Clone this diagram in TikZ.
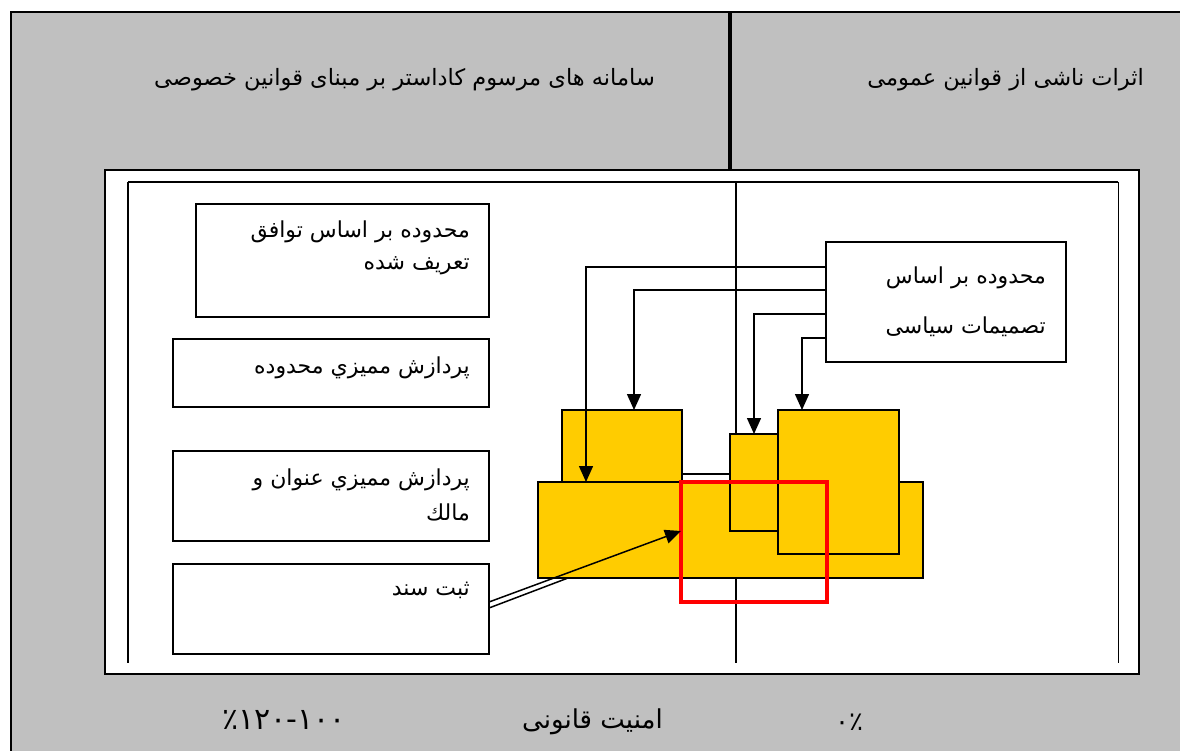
\documentclass[tikz,border=0pt]{standalone}
\usepackage{fontspec}
\usetikzlibrary{calc,arrows.meta}
\TeXXeTstate=1
\newfontfamily\arabicfont[Script=Arabic]{DejaVu Sans}
\definecolor{bggray}{HTML}{C0C0C0}
\definecolor{boxyellow}{HTML}{FFCC00}
\definecolor{frred}{HTML}{FF0000}
\begin{document}
\begin{tikzpicture}[x=1pt,y=-1pt,
  box/.style={draw=black, line width=1.5pt, fill=white, anchor=north west, inner sep=0pt, outer sep=0pt},
  ybox/.style={draw=black, line width=1.5pt, fill=boxyellow, anchor=north west, inner sep=0pt, outer sep=0pt},
  redbox/.style={draw=frred, line width=3.5pt, anchor=north west, inner sep=0pt, outer sep=0pt},
  arr/.style={line width=1.5pt, -{Triangle[length=16pt,width=14pt]}},
  plain/.style={line width=1.5pt},
  txt/.style={font={\arabicfont\fontsize{22}{26}\selectfont}, inner sep=0pt, anchor=east},
  head/.style={font={\arabicfont\fontsize{22.5}{26}\selectfont}, inner sep=0pt, anchor=east},
  foot/.style={font={\arabicfont\fontsize{26}{30}\selectfont}, inner sep=0pt, anchor=east},
]
\useasboundingbox (0,0) rectangle (1180,751);
\fill[white] (0,0) rectangle (1180,751);
\fill[bggray] (11,12) rectangle (1180,751);
\draw[line width=2pt] (11,751) -- (11,12) -- (1180,12);
% thick divider
\draw[line width=3.5pt] (730,12) -- (730,182);
% white panel
\draw[fill=white, line width=1.8pt] (105,170) rectangle (1139,674);
% inner frame
\draw[line width=2pt] (128,182) -- (1118,182);
\draw[line width=1.6pt] (128,182) -- (128,663);
\draw[line width=1pt] (1118,182) -- (1118,663);
\draw[line width=1.4pt] (736,182) -- (736,663);

% boxes on the left
\node[box, minimum width=293pt, minimum height=113pt] (b1) at (196,204) {};
\node[box, minimum width=316pt, minimum height=68pt] (b2) at (173,339) {};
\node[box, minimum width=316pt, minimum height=90pt] (b3) at (173,451) {};
\node[box, minimum width=316pt, minimum height=90pt] (b4) at (173,564) {};
\node[box, minimum width=240pt, minimum height=120pt] (pol) at (826,242) {};

% lower line of double connector (under yellow)
\coordinate (dlend) at (568,578);
\draw[plain] ($(b4.north east)+(0,44)$) -- (dlend);

% yellow boxes
\node[ybox, minimum width=120pt, minimum height=72pt] (yUL) at (562,410) {};
\coordinate (gapend) at (730,474);
\draw[plain] (yUL.east |- gapend) -- (gapend);
\node[ybox, minimum width=385pt, minimum height=96pt] (yBig) at (538,482) {};
\node[ybox, minimum width=48pt, minimum height=97pt] (ySmall) at (730,434) {};
\node[ybox, minimum width=121pt, minimum height=144pt] (yTall) at (778,410) {};
\node[redbox, minimum width=146pt, minimum height=120pt] (red) at (681,482) {};

% connectors from policy box
\draw[arr] ($(pol.west)+(0,-35)$) -| ($(yBig.north west)+(48,0)$);
\draw[arr] ($(pol.west)+(0,-12)$) -| ($(yUL.north west)+(72,0)$);
\draw[arr] ($(pol.west)+(0,12)$) -| (ySmall.north);
\draw[arr] ($(pol.west)+(0,36)$) -| ($(yTall.north west)+(24,0)$);
% connector from registration box
\draw[arr] ($(b4.north east)+(0,38)$) -- ($(red.west)+(0,-11)$);

% texts
\node[txt] (t1a) at (470,232) {\beginR محدوده بر اساس توافق\endR};
\node[txt] (t1b) at (470,266) {\beginR تعريف شده\endR};
\node[txt] (t2) at (470,368) {\beginR پردازش مميزي محدوده\endR};
\node[txt] (t3a) at (470,480) {\beginR پردازش مميزي عنوان و\endR};
\node[txt] (t3b) at (470,512) {\beginR مالك\endR};
\node[txt] (t4) at (470,590) {\beginR ثبت سند\endR};
\node[txt] (tpa) at (1046,278) {\beginR محدوده بر اساس\endR};
\node[txt] (tpb) at (1046,327) {\beginR تصميمات سياسی\endR};

\node[head] (h1) at (655,80) {\beginR سامانه های مرسوم کاداستر بر مبنای قوانین خصوصی\endR};
\node[head] (h2) at (1144,80) {\beginR اثرات ناشی از قوانین عمومی\endR};
\node[foot] (f1) at (663,722) {\beginR امنیت قانونی\endR};
\node[foot, anchor=center] (f2) at (849,722) {\hbox{۰}\hbox{٪}};
\node[foot, anchor=center, font={\arabicfont\fontsize{30}{34}\selectfont}] (f3) at (284,720) {\hbox{٪}\hbox{۱۲۰}\hbox{-}\hbox{۱۰۰}};
\end{tikzpicture}
\end{document}
